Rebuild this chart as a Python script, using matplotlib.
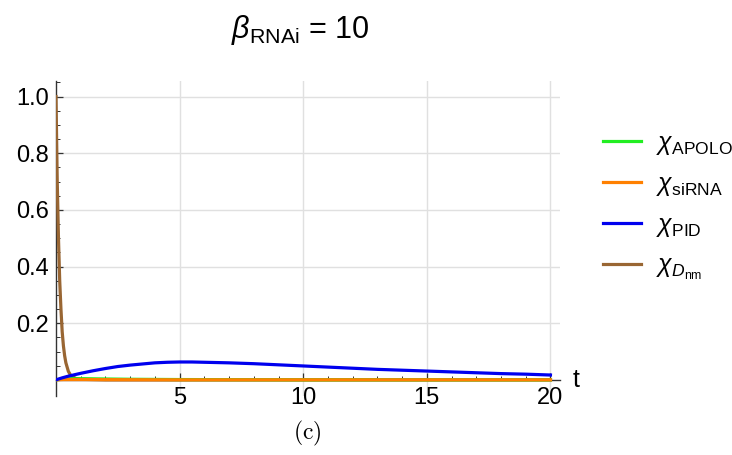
import numpy as np
import matplotlib.pyplot as plt

plt.rcParams['mathtext.fontset'] = 'custom'
plt.rcParams['mathtext.rm'] = 'Liberation Sans'
plt.rcParams['mathtext.it'] = 'Liberation Sans:italic'
plt.rcParams['font.family'] = 'Liberation Sans'

# values
t_dnm = [0, 0.05, 0.1, 0.15, 0.2, 0.25, 0.3, 0.35, 0.4, 0.5, 0.6, 0.8, 1, 2, 5, 10, 15, 20]
x_dnm = [1.0, 0.70, 0.50, 0.35, 0.25, 0.17, 0.12, 0.085, 0.06, 0.03, 0.015, 0.005, 0.002, 0, 0, 0, 0, 0]

t_pid = [0, 0.25, 0.5, 1, 1.5, 2, 2.5, 3, 3.5, 4, 4.5, 5, 5.5, 6, 7, 8, 9, 10,
         11, 12, 13, 14, 15, 16, 17, 18, 19, 20]
x_pid = [0, 0.007, 0.013, 0.023, 0.032, 0.040, 0.047, 0.052, 0.056, 0.060, 0.062, 0.063,
         0.063, 0.062, 0.060, 0.057, 0.053, 0.049, 0.045, 0.041, 0.037, 0.034, 0.031,
         0.028, 0.025, 0.022, 0.020, 0.017]

t_apolo = [0, 0.3, 0.6, 1, 2, 3, 5, 10, 20]
x_apolo = [0, 0.003, 0.004, 0.004, 0.003, 0.002, 0.001, 0, 0]

t_sirna = [0, 0.3, 1, 5, 10, 20]
x_sirna = [0, 0.001, 0.001, 0, 0, 0]

fig = plt.figure(figsize=(7.32, 4.55), dpi=100)
ax = fig.add_axes([0.0765, 0.1297, 0.689, 0.693])

ax.plot(t_dnm, x_dnm, color='#996633', lw=2.3, label=r'$\chi_{D_{\mathrm{nm}}}$', zorder=3)
ax.plot(t_apolo, x_apolo, color='#22ee22', lw=2.3, label=r'$\chi_{\mathrm{APOLO}}$', zorder=4)
ax.plot(t_sirna, x_sirna, color='#ff8000', lw=2.3, label=r'$\chi_{\mathrm{siRNA}}$', zorder=5)
ax.plot(t_pid, x_pid, color='#0000ee', lw=2.3, label=r'$\chi_{\mathrm{PID}}$', zorder=6)

ax.set_xlim(0, 20.4)
ax.set_ylim(-0.057, 1.056)

for s in ['top', 'right']:
    ax.spines[s].set_visible(False)
ax.spines['left'].set_position(('data', 0))
ax.spines['bottom'].set_position(('data', 0))
for s in ['left', 'bottom']:
    ax.spines[s].set_color('#333333')
    ax.spines[s].set_linewidth(1.0)

ax.set_xticks([5, 10, 15, 20])
ax.set_xticklabels(['5', '10', '15', '20'])
ax.set_xticks(np.arange(1, 21), minor=True)
ax.set_yticks([0.2, 0.4, 0.6, 0.8, 1.0])
ax.set_yticklabels(['0.2', '0.4', '0.6', '0.8', '1.0'])
ax.set_yticks(np.arange(0.05, 1.06, 0.05), minor=True)
ax.tick_params(which='major', direction='in', length=5, width=0.9, color='#333333',
               labelsize=17, pad=5)
ax.tick_params(which='minor', direction='in', length=3, width=0.7, color='#333333')
ax.tick_params(axis='x', which='both', direction='in')

ax.grid(True, which='major', color='#e0e0e0', lw=1.0, zorder=0)
ax.set_axisbelow(True)

ax.text(20.9, 0.0, 't', fontsize=18, va='center', ha='left', clip_on=False)

fig.text(0.41, 0.935, r'$\beta_{\mathrm{RNAi}}$ = 10', fontsize=22, ha='center', va='center')
fig.text(0.42, 0.048, r'$\mathrm{(c)}$', fontsize=17, ha='center', va='center', math_fontfamily='cm')

h, l = ax.get_legend_handles_labels()
order = [1, 2, 3, 0]
ax.legend([h[i] for i in order], [l[i] for i in order], loc='center left',
          bbox_to_anchor=(1.04, 0.6), frameon=False, fontsize=18, handlelength=1.5,
          handletextpad=0.6, labelspacing=0.6)

fig.savefig('out.png', dpi=100)
